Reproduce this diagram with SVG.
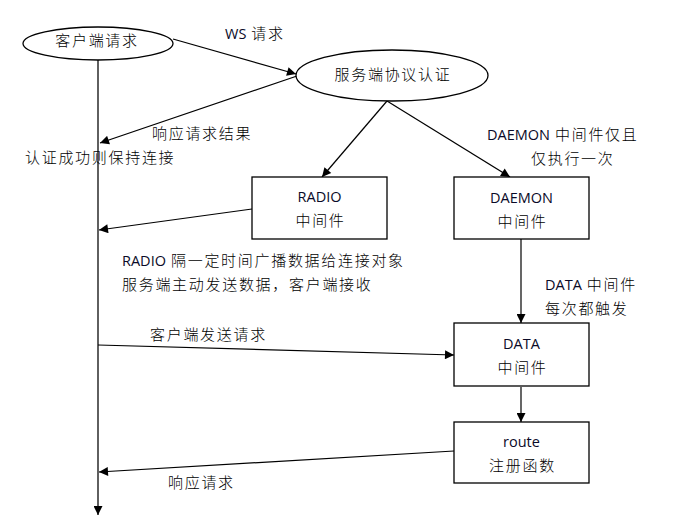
<svg xmlns="http://www.w3.org/2000/svg" width="696" height="530" viewBox="0 0 696 530">
<style>
text{font-family:"Noto Sans CJK SC","Microsoft YaHei",sans-serif;font-size:15px;font-weight:300;fill:#000;letter-spacing:1.7px}
.l{font-family:"Open Sans","Noto Sans",sans-serif;font-size:14.5px;font-weight:400;letter-spacing:0;fill:#0a0a28}
.m{text-anchor:middle}
.node{fill:#fff;stroke:#000;stroke-width:1.3}
.c{stroke:#000;stroke-width:1.2;fill:none;marker-end:url(#ah)}
.life{stroke:#444;stroke-width:1.7;fill:none;marker-end:url(#ah)}
</style>
<defs>
<marker id="ah" viewBox="0 0 10 10" refX="10" refY="5" markerWidth="11" markerHeight="9" markerUnits="userSpaceOnUse" orient="auto">
<path d="M0,0 L10,5 L0,10 z" fill="#000"/>
</marker>
</defs>
<rect width="696" height="530" fill="#fff"/>
<g id="connectors">
<line class="life" x1="98" y1="60" x2="98" y2="515"/>
<line class="c" x1="173" y1="39" x2="296" y2="74"/>
<line class="c" x1="297" y1="76" x2="100" y2="143"/>
<line class="c" x1="387" y1="101" x2="322" y2="177"/>
<line class="c" x1="387" y1="101" x2="510" y2="177"/>
<line class="c" x1="252" y1="209" x2="99" y2="230"/>
<line class="c" x1="521" y1="239" x2="521" y2="323"/>
<line class="c" x1="98" y1="345" x2="454" y2="355"/>
<line class="c" x1="521" y1="387" x2="521" y2="422"/>
<line class="c" x1="454" y1="451" x2="99" y2="472"/>
</g>
<g id="client">
<ellipse class="node" cx="98" cy="43.5" rx="75" ry="16.5"/>
<text class="m" x="97" y="46">客户端请求</text>
</g>
<g id="server">
<ellipse class="node" cx="392" cy="75.5" rx="96" ry="25.5"/>
<text class="m" x="393" y="80">服务端协议认证</text>
</g>
<g id="radio">
<rect class="node" x="252" y="177" width="135" height="62"/>
<text class="m l" x="319.5" y="202">RADIO</text>
<text class="m" x="320.5" y="226">中间件</text>
</g>
<g id="daemon">
<rect class="node" x="454" y="177" width="135" height="62"/>
<text class="m l" x="521.5" y="203">DAEMON</text>
<text class="m" x="522.5" y="227">中间件</text>
</g>
<g id="data">
<rect class="node" x="454" y="323" width="135" height="63"/>
<text class="m l" x="521.5" y="349">DATA</text>
<text class="m" x="522.5" y="373">中间件</text>
</g>
<g id="route">
<rect class="node" x="454" y="422" width="135" height="61"/>
<text class="m l" x="521.5" y="447">route</text>
<text class="m" x="522.5" y="471">注册函数</text>
</g>
<g id="labels">
<text x="225" y="39"><tspan class="l">WS</tspan> 请求</text>
<text x="152" y="139">响应请求结果</text>
<text x="25" y="163">认证成功则保持连接</text>
<text x="487" y="140"><tspan class="l">DAEMON</tspan> 中间件仅且</text>
<text x="531" y="164">仅执行一次</text>
<text x="122" y="266"><tspan class="l">RADIO</tspan> 隔一定时间广播数据给连接对象</text>
<text x="122" y="290">服务端主动发送数据，客户端接收</text>
<text x="545" y="290"><tspan class="l">DATA</tspan> 中间件</text>
<text x="545" y="314">每次都触发</text>
<text x="150" y="340">客户端发送请求</text>
<text x="168" y="488">响应请求</text>
</g>
</svg>
